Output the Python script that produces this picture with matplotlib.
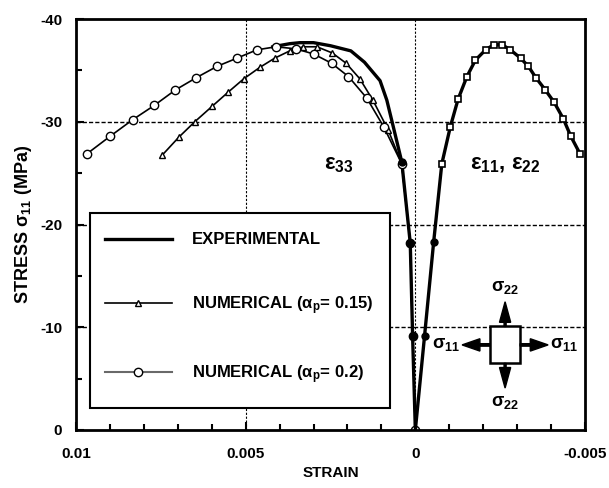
#!/usr/bin/env python3

import numpy as np
import matplotlib
matplotlib.use('Agg')
import matplotlib.pyplot as plt
from matplotlib.lines import Line2D
from matplotlib.patches import Rectangle, FancyArrow
from matplotlib import font_manager

names = {f.name for f in font_manager.fontManager.ttflist}
fam = 'Liberation Sans Narrow' if 'Liberation Sans Narrow' in names else 'Liberation Sans'
plt.rcParams['font.family'] = [fam, 'DejaVu Sans']
plt.rcParams['font.weight'] = 'bold'
plt.rcParams['axes.labelweight'] = 'bold'
plt.rcParams['mathtext.fontset'] = 'custom'
plt.rcParams['mathtext.rm'] = fam + ':bold'
plt.rcParams['mathtext.it'] = fam + ':bold'
plt.rcParams['mathtext.bf'] = fam + ':bold'
plt.rcParams['mathtext.default'] = 'bf'

# eps33 branch (left of zero)
exp33_x = [0.0042, 0.0037, 0.0034, 0.0030, 0.0025, 0.0019, 0.0015, 0.00104, 0.00084,
           0.0007, 0.0004, 0.00015, 0.00008, 0.0]
exp33_y = [-37.3, -37.6, -37.7, -37.7, -37.4, -36.9, -35.8, -34.0, -32.1,
           -30.2, -26.1, -18.2, -9.1, 0.0]

tri33_x = [0.00746, 0.00697, 0.0065, 0.00599, 0.00551, 0.00505, 0.00458, 0.00414, 0.0037,
           0.0033, 0.0029, 0.00245, 0.00204, 0.00164, 0.00125, 0.0008, 0.0004, 0.00015,
           0.00008, 0.0]
tri33_y = [-26.75, -28.5, -30.0, -31.5, -32.9, -34.2, -35.3, -36.2, -36.9,
           -37.3, -37.3, -36.7, -35.7, -34.2, -32.1, -29.2, -25.9, -18.2,
           -9.1, 0.0]

cir33_x = [0.00967, 0.00899, 0.00833, 0.00769, 0.00707, 0.00645, 0.00584, 0.00525, 0.00467,
           0.00411, 0.00352, 0.003, 0.00247, 0.00197, 0.00143, 0.00093, 0.0004, 0.00015,
           0.00008, 0.0]
cir33_y = [-26.9, -28.6, -30.2, -31.6, -33.1, -34.3, -35.4, -36.2, -37.0,
           -37.3, -37.1, -36.6, -35.7, -34.4, -32.3, -29.5, -25.9, -18.2,
           -9.1, 0.0]

# eps11, eps22 branch (right of zero), curves coincide
e11_x = [0.0, -0.00027, -0.00054, -0.00078, -0.00103, -0.00126, -0.00152, -0.00177,
         -0.00207, -0.00231, -0.00256, -0.0028, -0.0031, -0.00333, -0.00355, -0.00383,
         -0.00409, -0.00436, -0.00458, -0.00485]
e11_y = [0.0, -9.1, -18.3, -25.9, -29.5, -32.2, -34.4, -36.0,
         -37.0, -37.5, -37.5, -37.0, -36.2, -35.4, -34.3, -33.1,
         -31.9, -30.3, -28.6, -26.9]

fig = plt.figure(figsize=(6.09, 4.88), dpi=100)
ax = fig.add_axes([0.1248, 0.1189, 0.8358, 0.8421])

ax.plot(exp33_x, exp33_y, color='black', linewidth=2.4)
ax.plot(tri33_x, tri33_y, color='black', linewidth=1.2, marker='^', markersize=5,
        markerfacecolor='white', markeredgewidth=1.0)
ax.plot(cir33_x, cir33_y, color='black', linewidth=1.2, marker='o', markersize=6,
        markerfacecolor='white', markeredgewidth=1.0)
ax.plot(e11_x, e11_y, color='black', linewidth=2.4)
ax.plot(e11_x[3:], e11_y[3:], color='black', linewidth=1.2, marker='s', markersize=5,
        markerfacecolor='white', markeredgewidth=1.2, linestyle='none')
# filled dots near the origin
ax.plot(exp33_x[-4:-1], exp33_y[-4:-1], 'o', color='black', markersize=5)
ax.plot(e11_x[1:3], e11_y[1:3], 'o', color='black', markersize=5)

ax.set_xlim(0.01, -0.005)
ax.set_ylim(0, -40)
ax.set_xticks([0.01, 0.005, 0, -0.005])
ax.set_xticklabels(['0.01', '0.005', '0', '-0.005'])
ax.set_xticks(np.arange(-0.005, 0.0101, 0.001), minor=True)
ax.set_yticks([0, -10, -20, -30, -40])
ax.set_yticklabels(['0', '-10', '-20', '-30', '-40'])
ax.set_yticks([-5, -15, -25, -35], minor=True)
ax.tick_params(which='both', direction='in', labelsize=11, width=1.5)
ax.tick_params(which='major', length=6)
ax.tick_params(which='minor', length=4)
ax.tick_params(axis='x', which='major', pad=12)
ax.tick_params(axis='y', which='major', pad=10)
for lab in ax.get_xticklabels() + ax.get_yticklabels():
    lab.set_fontweight('bold')
for s in ax.spines.values():
    s.set_linewidth(2)

for yv in [-10, -20, -30]:
    ax.axhline(yv, color='black', linestyle=(0, (3, 1.5)), linewidth=1.0, zorder=0)
for xv in [0.005, 0.0]:
    ax.axvline(xv, color='black', linestyle=(0, (2, 1.5)), linewidth=0.8, zorder=0)

ax.set_xlabel('STRAIN', fontsize=11, labelpad=4)
ax.set_ylabel(r'STRESS $\sigma_{11}$ (MPa)', fontsize=13, labelpad=4)

ax.text(0.00225, -25.8, r'$\varepsilon_{33}$', fontsize=16, ha='center', va='center')
ax.text(-0.00265, -25.8, r'$\varepsilon_{11}$, $\varepsilon_{22}$', fontsize=16,
        ha='center', va='center')

# legend box and entries
ax.add_patch(Rectangle((0.0275, 0.054), 0.59, 0.474, transform=ax.transAxes,
                       facecolor='white', edgecolor='black', linewidth=1.5, zorder=4))
handles = [
    Line2D([], [], color='black', linewidth=2.4),
    Line2D([], [], color='black', linewidth=1.2, marker='^', markersize=5,
           markerfacecolor='white'),
    Line2D([], [], color='dimgray', linewidth=1.5, marker='o', markersize=6,
           markerfacecolor='white', markeredgecolor='black'),
]
labels = ['EXPERIMENTAL', r'NUMERICAL ($\alpha_p$= 0.15)', r'NUMERICAL ($\alpha_p$= 0.2)']
leg = ax.legend(handles, labels, loc='center left', bbox_to_anchor=(0.057, 0.294),
                frameon=False, handlelength=4.0, handletextpad=1.2,
                labelspacing=2.8, borderpad=0, borderaxespad=0, fontsize=12)
leg.set_zorder(6)

# stress element sketch
cx, cy, w, h = 0.843, 0.207, 0.059, 0.09
ax.add_patch(Rectangle((cx - w / 2, cy - h / 2), w, h, transform=ax.transAxes,
                       facecolor='white', edgecolor='black', linewidth=1.8, zorder=5))
aw = dict(transform=ax.transAxes, color='black', length_includes_head=True,
          width=0.004, head_width=0.022, zorder=5)
ax.add_patch(FancyArrow(cx, cy + h / 2, 0, 0.06, head_length=0.05, **aw))
ax.add_patch(FancyArrow(cx, cy - h / 2, 0, -0.06, head_length=0.05, **aw))
ax.add_patch(FancyArrow(cx - w / 2, cy, -0.055, 0, head_length=0.035,
                        **dict(aw, width=0.006, head_width=0.03)))
ax.add_patch(FancyArrow(cx + w / 2, cy, 0.055, 0, head_length=0.035,
                        **dict(aw, width=0.006, head_width=0.03)))
ax.text(cx, cy + 0.14, r'$\sigma_{22}$', transform=ax.transAxes, fontsize=13,
        ha='center', va='center')
ax.text(cx, cy - 0.14, r'$\sigma_{22}$', transform=ax.transAxes, fontsize=13,
        ha='center', va='center')
ax.text(cx - 0.115, cy, r'$\sigma_{11}$', transform=ax.transAxes, fontsize=13,
        ha='center', va='center')
ax.text(cx + 0.115, cy, r'$\sigma_{11}$', transform=ax.transAxes, fontsize=13,
        ha='center', va='center')

fig.savefig('out.png', dpi=100)
